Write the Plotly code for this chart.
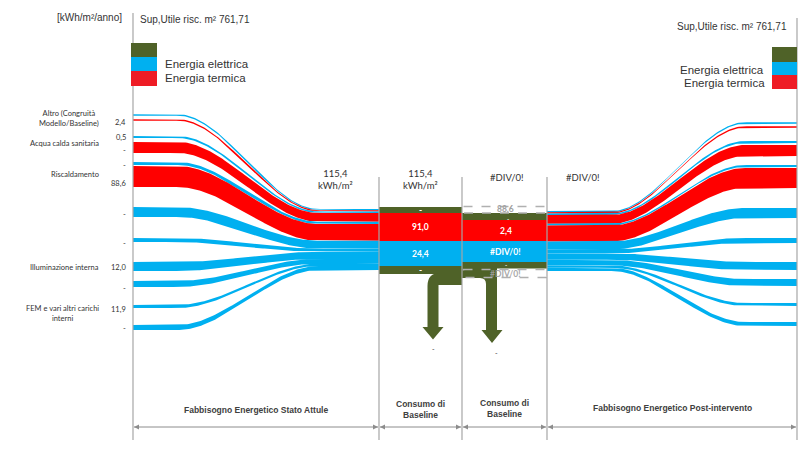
import numpy as np
import plotly.graph_objects as go

# ---------------- data ----------------
categories = ["Altro (Congruità<br>Modello/Baseline)", "Acqua calda sanitaria",
              "Riscaldamento", "Illuminazione interna", "FEM e vari altri carichi<br>interni"]
category_values = [2.4, 0.5, 88.6, 12.0, 11.9]
row_value_labels = ["2,4", "0,5", "-", "-", "88,6", "-", "-", "12,0", "-", "11,9", "-"]
column_totals = ["115,4<br>kWh/m²", "115,4<br>kWh/m²", "#DIV/0!", "#DIV/0!"]
baseline_labels = ["-", "91,0", "24,4", "-"]
post_labels = ["88,6", "-", "2,4", "#DIV/0!", "-", "#DIV/0!"]
arrow_labels = ["-", "-"]
section_labels = ["Fabbisogno Energetico Stato Attule", "Consumo di<br>Baseline",
                  "Consumo di<br>Baseline", "Fabbisogno Energetico Post-intervento"]
legend_labels = ["Energia elettrica", "Energia termica"]
surface_label = "Sup,Utile risc. m² 761,71"
unit_label = "[kWh/m²/anno]"

# strands of the flow (el = electric, th = thermal) and their thickness
strand_types = ["el", "th", "el", "th", "el", "th", "el", "el", "el", "el", "el", "el"]
strand_thick_left = [1.5, 1.5, 2, 11, 3, 21, 10, 4, 9, 6, 3, 5]
strand_thick_right = [1.5, 1.5, 2, 11, 2, 20, 10, 5, 8, 7, 3, 4]

# ---------------- layout / style ----------------
RED = "#FF0000"
BLUE = "#00B0F0"
GREEN = "#4F6228"
GRID = "#A6A6A6"
TXT = "#404040"
CAL = "Lato, Carlito, Calibri, sans-serif"
ARIAL = "Liberation Sans, Arial, sans-serif"
NARROW = "Liberation Sans Narrow, Arial Narrow, Liberation Sans, sans-serif"
COLORS = {"el": BLUE, "th": RED}

L_ROW_Y = [115, 120, 137, 147.5, 163.5, 176.5, 212, 240, 266.5, 284, 306.5, 327.5]
R_ROW_Y = [123, 127, 142, 150.5, 166, 178, 213, 240.5, 266, 282.5, 304.5, 324]
LABEL_Y = [122, 137, 150, 165, 183, 214, 243, 267, 288, 309, 328]
CAT_Y = [118, 143, 174, 267, 313]
X_LEFT, X_B1, X_B2, X_B3, X_RIGHT = 133, 379, 462, 547, 797

fig = go.Figure()


def smooth(x, xa, xb):
    t = np.clip((x - xa) / (xb - xa), 0, 1)
    return t * t * (3 - 2 * t)


def add_band(x, top0, bot0, top1, bot1, xa, xb, color):
    s = smooth(x, xa, xb)
    top = top0 + (top1 - top0) * s
    bot = bot0 + (bot1 - bot0) * s
    xs = np.concatenate([x, x[::-1]])
    ys = np.concatenate([top, bot[::-1]])
    fig.add_trace(go.Scatter(x=xs, y=ys, fill="toself", fillcolor=color, mode="lines",
                             line=dict(width=0), hoverinfo="skip", showlegend=False))


# left flows: rows -> merged stack
xl = np.linspace(X_LEFT, X_B1, 160)
scale_l = 61.0 / sum(strand_thick_left)
cur = 209.0
for typ, w, yc in zip(strand_types, strand_thick_left, L_ROW_Y):
    wm = w * scale_l
    add_band(xl, yc - w / 2, yc + w / 2, cur, cur + wm, 178, 318, COLORS[typ])
    cur += wm

# right flows: merged stack -> rows
xr = np.linspace(X_B3, X_RIGHT, 160)
scale_r = 60.0 / sum(strand_thick_right)
cur = 211.0
for typ, w, yc in zip(strand_types, strand_thick_right, R_ROW_Y):
    wm = w * scale_r
    add_band(xr, cur, cur + wm, yc - w / 2, yc + w / 2, 612, 745, COLORS[typ])
    cur += wm

shapes = []
ann = []


def rect(x0, x1, y0, y1, color, **kw):
    shapes.append(dict(type="rect", xref="x", yref="y", x0=x0, x1=x1, y0=y0, y1=y1,
                       fillcolor=color, line=dict(width=0), layer="above", **kw))


def text(x, y, s, size=8, color=TXT, font=CAL, xanchor="center", bold=False, opacity=1):
    if bold:
        s = "<b>" + s + "</b>"
    ann.append(dict(x=x, y=y, xref="x", yref="y", text=s, showarrow=False,
                    xanchor=xanchor, yanchor="middle", opacity=opacity,
                    font=dict(size=size, color=color, family=font)))


# baseline column 1 boxes
b1 = [(207, 213, GREEN), (213, 241, RED), (241, 266, BLUE), (266, 274, GREEN)]
for (y0, y1, c), lab in zip(b1, baseline_labels):
    rect(X_B1, X_B2, y0, y1, c)
    text((X_B1 + X_B2) / 2, (y0 + y1) / 2, lab, size=8.5, color="white", bold=True)

# arrow 1 (elbow down from column 1)
shapes.append(dict(type="path", xref="x", yref="y", fillcolor=GREEN, line=dict(width=0), layer="above",
                   path="M 427.5,327 L 427.5,286 Q 427.5,273 440,273 L 462,273 L 462,285 "
                        "L 438.5,285 L 438.5,327 L 443.5,327 L 433,339.5 L 422.5,327 Z"))

# column 2 boxes
b2 = [(213, 220, GREEN), (220, 241, RED), (241, 262, BLUE), (262, 268.5, GREEN)]
for (y0, y1, c) in b2:
    rect(X_B2, X_B3, y0, y1, c)
# arrow 2
shapes.append(dict(type="path", xref="x", yref="y", fillcolor=GREEN, line=dict(width=0), layer="above",
                   path="M 462,268 L 497,268 L 497,330 L 502.5,330 L 492,343 L 481.5,330 L 486,330 "
                        "L 486,284 Q 486,278 480,278 L 462,278 Z"))
# dashed boxes
for y0, y1 in [(206.5, 213), (269.5, 277.5)]:
    shapes.append(dict(type="rect", xref="x", yref="y", x0=X_B2 + 1.5, x1=X_B3 - 1, y0=y0, y1=y1,
                       line=dict(color="#B0B0B0", width=1.5, dash="dash"), layer="above"))
cx2 = (X_B2 + X_B3) / 2 + 1
text(cx2, 209, post_labels[0], size=8.5, color="#A0A0A0", bold=True)
text(cx2 + 2, 218, post_labels[1], size=6, color="white", bold=True)
text(cx2, 230.5, post_labels[2], size=8.5, color="white", bold=True)
text(cx2, 251.5, post_labels[3], size=8.5, color="white", bold=True)
text(cx2, 264.5, post_labels[4], size=6, color="white", bold=True)
text(cx2, 274, post_labels[5], size=8.5, color="#A0A0A0", bold=True, opacity=0.9)

text(433, 349, arrow_labels[0], size=7)
text(496, 353, arrow_labels[1], size=7)

# vertical lines
for x, y0 in [(X_LEFT, 13), (X_B1, 177), (X_B2, 177), (X_B3, 177), (X_RIGHT, 18)]:
    shapes.append(dict(type="line", xref="x", yref="y", x0=x, x1=x, y0=y0, y1=440,
                       line=dict(color=GRID, width=1.2), layer="above"))

# bottom double arrows
AY = 427
for a, b in [(X_LEFT, X_B1), (X_B1, X_B2), (X_B2, X_B3), (X_B3, X_RIGHT)]:
    shapes.append(dict(type="line", xref="x", yref="y", x0=a + 1, x1=b - 1, y0=AY, y1=AY,
                       line=dict(color="#8C8C8C", width=1), layer="above"))
    shapes.append(dict(type="path", xref="x", yref="y", fillcolor="#8C8C8C", line=dict(width=0),
                       path=f"M {a+1},{AY} L {a+6},{AY-2.5} L {a+6},{AY+2.5} Z", layer="above"))
    shapes.append(dict(type="path", xref="x", yref="y", fillcolor="#8C8C8C", line=dict(width=0),
                       path=f"M {b-1},{AY} L {b-6},{AY-2.5} L {b-6},{AY+2.5} Z", layer="above"))

# section labels
sec_x = [(X_LEFT + X_B1) / 2, (X_B1 + X_B2) / 2, (X_B2 + X_B3) / 2, (X_B3 + X_RIGHT) / 2]
sec_y = [410, 409, 408, 408]
for x, y, s in zip(sec_x, sec_y, section_labels):
    text(x, y, s, size=8.5, color=TXT, font=NARROW, bold=True)

# column totals
for x, y, s in zip([335, 420, 507, 583], [179, 179, 177, 177], column_totals):
    text(x, y, s, size=9.5, color="#333333", font=CAL)

# legends
for x0, x1, ys in [(131, 157, (43, 57, 71, 86)), (772, 797, (47, 62, 75, 89))]:
    rect(x0, x1, ys[0], ys[1], GREEN)
    rect(x0, x1, ys[1], ys[2], BLUE)
    rect(x0, x1, ys[2], ys[3], "#EE1C25")
text(163, 64, legend_labels[0], size=11.5, color="#333333", font=ARIAL, xanchor="left")
text(163, 78, legend_labels[1], size=11.5, color="#333333", font=ARIAL, xanchor="left")
text(766, 70, legend_labels[0], size=11.5, color="#333333", font=ARIAL, xanchor="right")
text(767, 83, legend_labels[1], size=11.5, color="#333333", font=ARIAL, xanchor="right")

text(124, 17, unit_label, size=10, color="#333333", font=ARIAL, xanchor="right")
text(138, 19, surface_label, size=10, color="#333333", font=ARIAL, xanchor="left")
text(789, 26, surface_label, size=10, color="#333333", font=ARIAL, xanchor="right")

# left category & value labels
for y, s in zip(CAT_Y, categories):
    text(101, y, s, size=7.5, color="#333333", xanchor="right")
for y, s in zip(LABEL_Y, row_value_labels):
    text(128, y, s, size=7.5, color="#333333", xanchor="right")

fig.update_layout(
    width=802, height=451, margin=dict(l=0, r=0, t=0, b=0),
    paper_bgcolor="white", plot_bgcolor="white",
    xaxis=dict(range=[0, 802], visible=False, fixedrange=True),
    yaxis=dict(range=[451, 0], visible=False, fixedrange=True),
    shapes=shapes, annotations=ann, showlegend=False,
)
fig.write_html("out.html")
